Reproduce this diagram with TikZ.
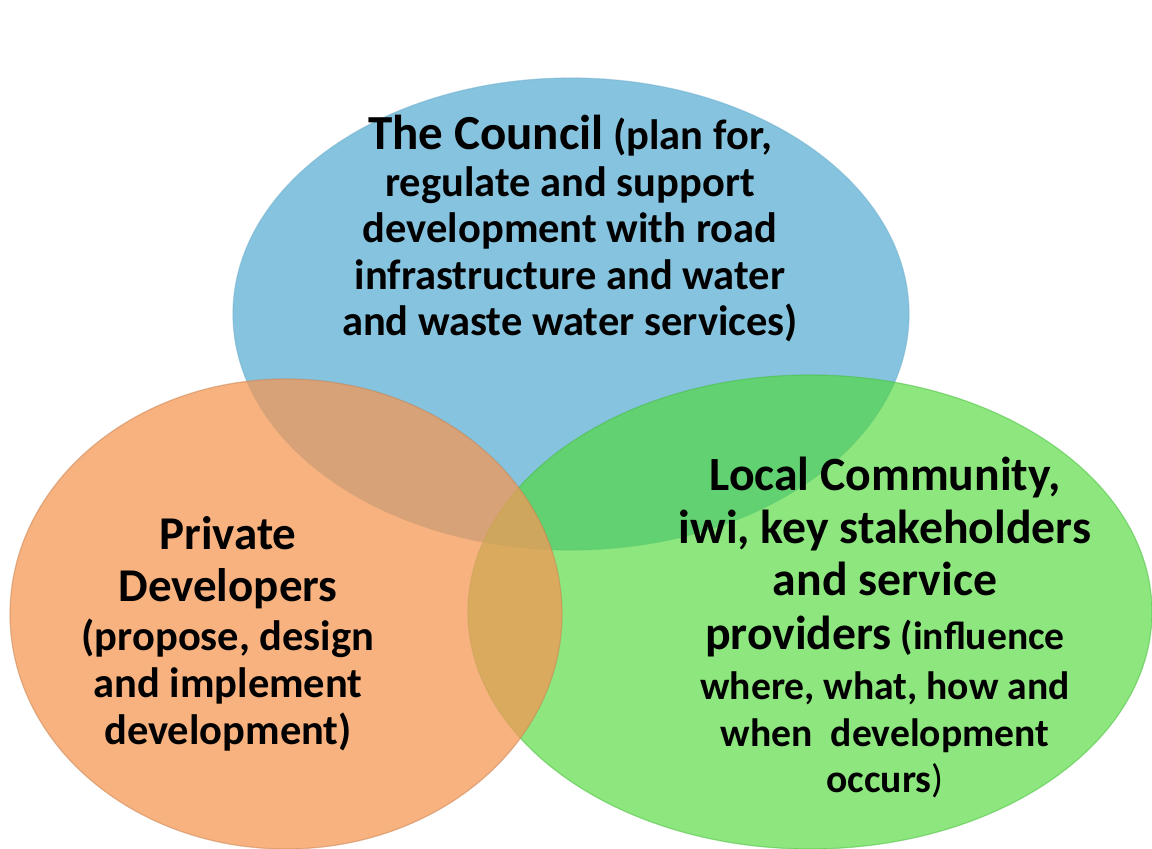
\documentclass[tikz,border=0pt]{standalone}
\usepackage{fontspec}
\setmainfont{Carlito}
\definecolor{cblue}{RGB}{134,195,222}
\definecolor{cgreen}{RGB}{80,217,57}
\definecolor{corange}{RGB}{244,152,86}
\definecolor{cblueedge}{RGB}{110,175,205}
\definecolor{cgreenedge}{RGB}{70,190,60}
\definecolor{corangeedge}{RGB}{200,130,80}
\newcommand{\sized}[2]{{\fontsize{#1}{52}\selectfont #2}}
\tikzset{
  txt/.style={align=center, inner sep=0pt, text=black},
  bluetxt/.style={txt, font=\fontsize{42.5}{46.5}\selectfont\bfseries},
  orangetxt/.style={txt, font=\fontsize{42.5}{47}\selectfont\bfseries},
  greentxt/.style={txt, font=\fontsize{39.6}{46}\selectfont\bfseries},
  rim/.style={line width=1.2pt, draw opacity=0.5}
}
\begin{document}
\begin{tikzpicture}[x=1pt,y=-1pt]
\useasboundingbox (0,0) rectangle (1152,849);
% circles
\fill[cblue] (571,314) ellipse [x radius=338pt, y radius=236pt];
\draw[rim, cblueedge] (571,314) ellipse [x radius=338pt, y radius=236pt];
\fill[cgreen, fill opacity=0.65] (810,612) ellipse [x radius=342pt, y radius=237pt];
\draw[rim, cgreenedge] (810,612) ellipse [x radius=342pt, y radius=237pt];
\fill[corange, fill opacity=0.75] (286,614) ellipse [x radius=276pt, y radius=235pt];
\draw[rim, corangeedge] (286,614) ellipse [x radius=276pt, y radius=235pt];
% texts
\node[bluetxt] (council) at (570,229) {\sized{49}{The Council} (plan for,\\regulate and support\\development with road\\infrastructure and water\\and waste water services)};
\node[orangetxt] (developers) at (228,634) {\sized{47}{Private}\\[5pt]\sized{47}{Developers}\\[2pt](propose, design\\and implement\\development)};
\node[greentxt] (community) at (885,628) {\sized{47.7}{Local Community,}\\[7pt]\sized{47.7}{iwi, key stakeholders}\\[6pt]\sized{47.7}{and service}\\[8pt]\sized{47.7}{providers} (influence\\[4pt]where, what, how and\\[1pt]when\ \ development\\occurs{\mdseries)}};
\end{tikzpicture}
\end{document}
